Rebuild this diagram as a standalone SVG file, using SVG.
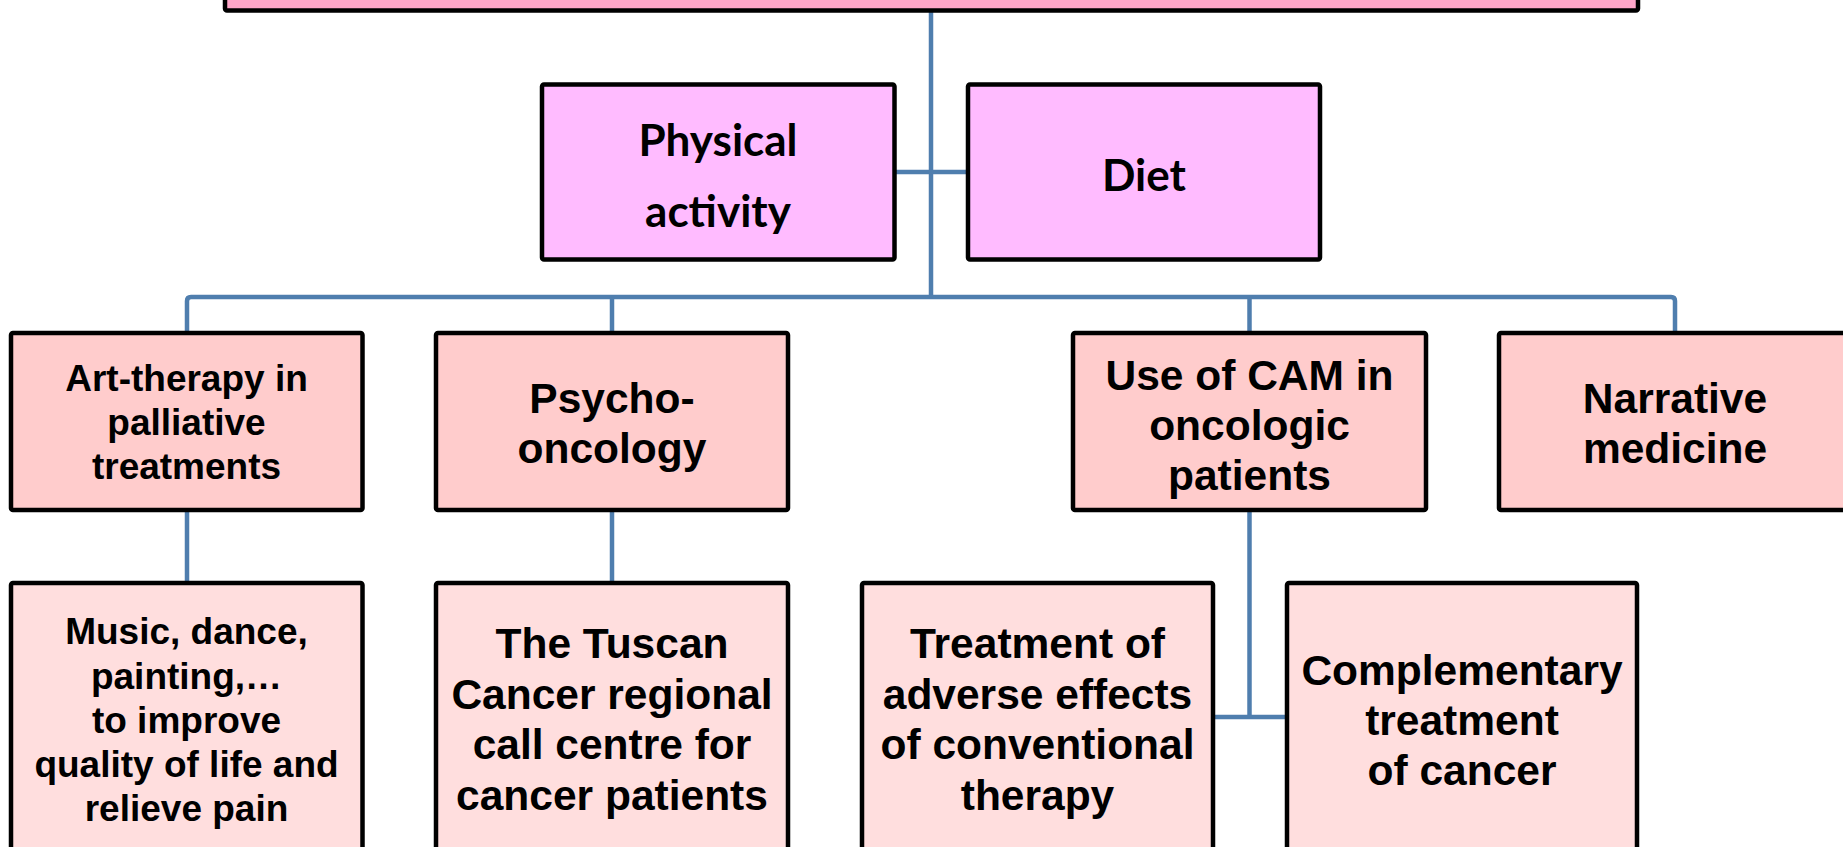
<svg xmlns="http://www.w3.org/2000/svg" width="1843" height="847" viewBox="0 0 1843 847">
<style>
.box{stroke:#000;stroke-width:4.5;stroke-linejoin:round}
.top{fill:#FFA6C9}
.l1{fill:#FFBBFF}
.l2{fill:#FFCCCC}
.l3{fill:#FFDEDE}
.conn{fill:none;stroke:#4F7EAE;stroke-width:4.5}
.t1{font-family:Lato,"Open Sans",sans-serif;font-weight:bold;font-size:44px;text-anchor:middle;fill:#000}
.ta{font-family:"Liberation Sans",Arial,sans-serif;font-weight:bold;font-size:42.5px;text-anchor:middle;fill:#000}
.ts{font-family:"Liberation Sans",Arial,sans-serif;font-weight:bold;font-size:37px;text-anchor:middle;fill:#000}
</style>
<rect width="1843" height="847" fill="#fff"/>
<g id="connectors">
<path class="conn" d="M931 10 V297"/>
<path class="conn" d="M894 172 H968"/>
<path class="conn" d="M187 333 V301 Q187 297 191 297 H1671 Q1675 297 1675 301 V333"/>
<path class="conn" d="M612 297 V333"/>
<path class="conn" d="M1249.5 297 V333"/>
<path class="conn" d="M187 510 V583"/>
<path class="conn" d="M612 510 V583"/>
<path class="conn" d="M1249.5 510 V717"/>
<path class="conn" d="M1213 717 H1287"/>
</g>
<g id="root"><rect class="box top" x="225" y="-100" width="1413" height="110.5" rx="2"/></g>
<g id="physical"><rect class="box l1" x="542" y="84.5" width="352.5" height="175" rx="2"/>
<text class="t1" x="718" y="156">Physical</text><text class="t1" x="718" y="227">activity</text></g>
<g id="diet"><rect class="box l1" x="968" y="84.5" width="352" height="175" rx="2"/>
<text class="t1" x="1144" y="190.5">Diet</text></g>
<g id="art"><rect class="box l2" x="11" y="333" width="351.5" height="177" rx="2"/>
<text class="ts" x="186.5" y="391">Art-therapy in</text><text class="ts" x="186.5" y="434.5">palliative</text><text class="ts" x="186.5" y="479">treatments</text></g>
<g id="psycho"><rect class="box l2" x="436" y="333" width="352" height="177" rx="2"/>
<text class="ta" x="612" y="413">Psycho-</text><text class="ta" x="612" y="463">oncology</text></g>
<g id="cam"><rect class="box l2" x="1073" y="333" width="353" height="177" rx="2"/>
<text class="ta" x="1249.5" y="389.5">Use of CAM in</text><text class="ta" x="1249.5" y="439.5">oncologic</text><text class="ta" x="1249.5" y="489.5">patients</text></g>
<g id="narrative"><rect class="box l2" x="1499" y="333" width="400" height="177" rx="2"/>
<text class="ta" x="1675" y="413">Narrative</text><text class="ta" x="1675" y="463">medicine</text></g>
<g id="music"><rect class="box l3" x="11" y="583" width="351.5" height="320" rx="2"/>
<text class="ts" x="186.5" y="644">Music, dance,</text><text class="ts" x="186.5" y="688.5">painting,…</text><text class="ts" x="186.5" y="733">to improve</text><text class="ts" x="186.5" y="777">quality of life and</text><text class="ts" x="186.5" y="821">relieve pain</text></g>
<g id="tuscan"><rect class="box l3" x="436" y="583" width="352" height="320" rx="2"/>
<text class="ta" x="612" y="658">The Tuscan</text><text class="ta" x="612" y="708.5">Cancer regional</text><text class="ta" x="612" y="759">call centre for</text><text class="ta" x="612" y="809.5">cancer patients</text></g>
<g id="treatment"><rect class="box l3" x="862" y="583" width="351" height="320" rx="2"/>
<text class="ta" x="1037.5" y="658">Treatment of</text><text class="ta" x="1037.5" y="708.5">adverse effects</text><text class="ta" x="1037.5" y="759">of conventional</text><text class="ta" x="1037.5" y="809.5">therapy</text></g>
<g id="complementary"><rect class="box l3" x="1287" y="583" width="350" height="320" rx="2"/>
<text class="ta" x="1462" y="685">Complementary</text><text class="ta" x="1462" y="735">treatment</text><text class="ta" x="1462" y="785">of cancer</text></g>
</svg>
